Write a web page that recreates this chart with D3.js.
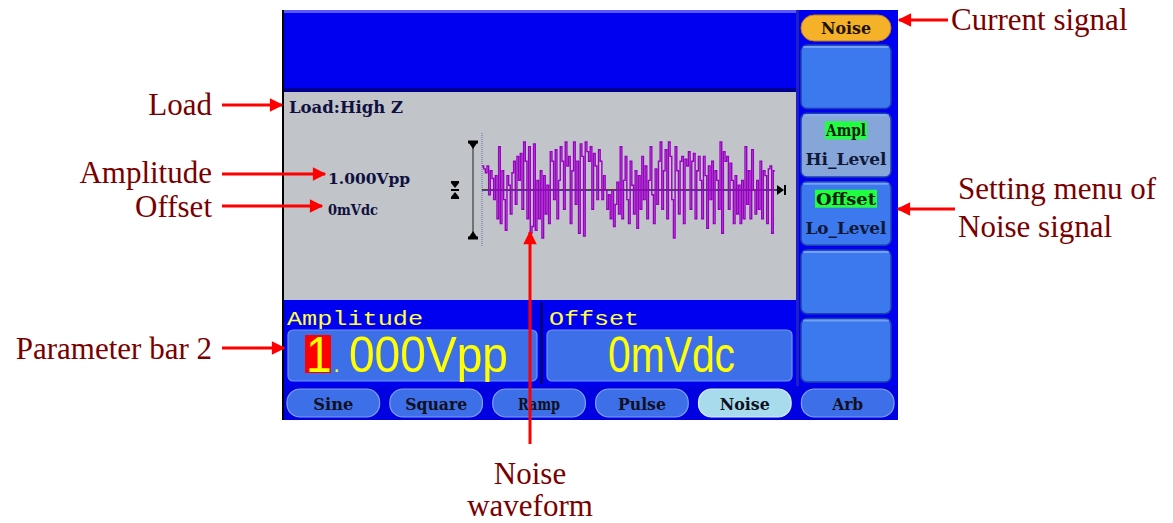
<!DOCTYPE html>
<html><head><meta charset="utf-8">
<script src="https://cdn.jsdelivr.net/npm/d3@7"></script>
<style>body{margin:0;background:#fff}svg{display:block}</style>
</head><body>
<svg id="c" width="1173" height="523"></svg>
<script>
// ---- data ----
const noiseValues = [
 0.25,0.22,0.18,0.25,-0.05,0.2,0.12,-0.1,0.15,-0.3,0.45,
 -0.35,0.2,-0.1,-0.42,0.15,0.05,-0.25,0.18,0.3,-0.15,0.35,0.1,
 0.38,-0.2,0.5,0.3,-0.3,0.45,-0.45,-0.38,0.48,-0.42,0.1,-0.3,
 0.2,-0.5,0.15,-0.25,0.05,-0.35,0.4,0.3,-0.1,0.42,-0.3,0.1,
 0.45,0.3,-0.2,0.5,0.25,0.35,-0.35,0.2,0.5,-0.15,0.3,-0.45,
 0.48,0.35,-0.48,0.5,0.4,0.3,0.45,-0.2,0.38,0.25,-0.1,0.42,
 0.3,-0.1,0.15,0.0,-0.2,-0.05,-0.3,0.0,-0.38,-0.15,0.08,-0.25,
 0.45,-0.3,0.1,0.35,-0.1,-0.35,0.3,0.05,-0.25,0.2,-0.4,0.15,
 -0.2,0.35,-0.1,0.25,-0.3,0.1,0.45,-0.05,-0.35,0.22,-0.15,0.3,
 0.5,-0.2,0.2,0.42,-0.3,0.5,0.35,-0.1,-0.5,0.45,0.2,-0.25,
 0.3,0.35,-0.35,0.32,0.25,0.4,-0.2,0.3,0.38,-0.3,0.2,0.35,
 0.1,-0.3,0.35,0.15,-0.4,0.25,-0.1,0.3,-0.35,0.2,0.1,-0.2,
 0.5,-0.45,0.4,0.3,0.35,-0.2,0.28,0.1,-0.35,0.15,-0.25,0.05,
 -0.35,0.1,-0.3,0.45,-0.15,0.2,-0.3,0.42,0.0,-0.25,0.1,-0.2,
 0.3,-0.3,0.2,0.15,-0.35,0.22,0.25,-0.45,0.2
];
const waveButtons = ["Sine","Square","Ramp","Pulse","Noise","Arb"];
const currentWave = "Noise";
const menuItems = [
 {top:"", bottom:"", style:"plain"},
 {top:"Ampl", bottom:"Hi_Level", style:"selected"},
 {top:"Offset", bottom:"Lo_Level", style:"plain"},
 {top:"", bottom:"", style:"plain"},
 {top:"", bottom:"", style:"plain"}
];
const params = [
 {label:"Amplitude", value:"1.000Vpp"},
 {label:"Offset", value:"0mVdc"}
];
const loadText = "Load:High Z";
const annotations = ["Load","Amplitude","Offset","Parameter bar 2","Current signal","Setting menu of","Noise signal","Noise","waveform"];

// ---- drawing ----
const svg = d3.select("#c");
const defs = svg.append("defs");
const mono = "'Liberation Mono', 'DejaVu Sans Mono', monospace";
const bserif = "'DejaVu Serif', serif";
const red = "#ff0000", dark = "#7a0000";

defs.append("marker").attr("id","ah").attr("viewBox","0 0 10 10").attr("refX",9).attr("refY",5)
 .attr("markerWidth",5).attr("markerHeight",4.5).attr("orient","auto-start-reverse").attr("markerUnits","strokeWidth")
 .append("path").attr("d","M0,0 L10,5 L0,10 Z").attr("fill",red);

const btext = (x,y,t,fs,len,anchor)=>svg.append("text").attr("x",x).attr("y",y).text(t)
  .attr("text-anchor",anchor||"start")
  .attr("font-family",bserif).attr("font-weight","bold").attr("font-size",fs)
  .attr("font-stretch","condensed")
  .attr("textLength",len).attr("lengthAdjust","spacingAndGlyphs");

// screen
svg.append("rect").attr("x",283).attr("y",10).attr("width",615).attr("height",410).attr("fill","#0000f0");
svg.append("rect").attr("x",283).attr("y",10).attr("width",513).attr("height",3).attr("fill","#5a5aff");
svg.append("line").attr("x1",283).attr("x2",283).attr("y1",10).attr("y2",420).attr("stroke","#000").attr("stroke-width",2);
svg.append("rect").attr("x",284).attr("y",88).attr("width",512).attr("height",4).attr("fill","#000090");
svg.append("rect").attr("x",284).attr("y",92).attr("width",512).attr("height",208).attr("fill","#c1c4c8");
svg.append("rect").attr("x",796).attr("y",10).attr("width",3).attr("height",380).attr("fill","#2020c0");

// gray area texts
btext(289,113,loadText,16,114).attr("fill","#101040");
btext(328,184,params[0].value,15,82).attr("fill","#101040");
btext(328,215,params[1].value,15,50).attr("fill","#101040");

// waveform scales
const x = d3.scaleLinear().domain([0, noiseValues.length]).range([482, 775]);
const y = d3.scaleLinear().domain([-0.5, 0.5]).range([238, 142]);
// dotted start line
svg.append("line").attr("x1",482).attr("x2",482).attr("y1",133).attr("y2",247)
 .attr("stroke","#6a6ab0").attr("stroke-width",1).attr("stroke-dasharray","1,1");
// amplitude marker
svg.append("line").attr("x1",473).attr("x2",473).attr("y1",y(0.5)).attr("y2",y(-0.5)).attr("stroke","#202020").attr("stroke-width",1);
[[y(0.5),1],[y(-0.5),-1]].forEach(([yy,d])=>{
  svg.append("rect").attr("x",468).attr("y",yy-1.5).attr("width",10).attr("height",3).attr("fill","#000");
  svg.append("path").attr("d",`M469,${yy+d*1} L477,${yy+d*1} L473,${yy+d*7} Z`).attr("fill","#000");
});
// offset marker (double arrows)
const oy = y(0);
svg.append("path").attr("d",`M451,${oy-7} L459,${oy-7} L455,${oy-2} Z M451,${oy+7} L459,${oy+7} L455,${oy+2} Z`).attr("fill","#000");
svg.append("rect").attr("x",451).attr("y",oy-9).attr("width",8).attr("height",2).attr("fill","#000");
svg.append("rect").attr("x",451).attr("y",oy+7).attr("width",8).attr("height",2).attr("fill","#000");
svg.append("rect").attr("x",451).attr("y",oy-1).attr("width",8).attr("height",2).attr("fill","#000");
// zero line
svg.append("line").attr("x1",482).attr("x2",780).attr("y1",oy-1.5).attr("y2",oy-1.5).attr("stroke","#d8d040").attr("stroke-width",1);
svg.append("line").attr("x1",482).attr("x2",780).attr("y1",oy).attr("y2",oy).attr("stroke","#1010a0").attr("stroke-width",1.3);
// waveform
const pts = noiseValues.map((v,i)=>[i,v]).concat([[noiseValues.length, noiseValues[noiseValues.length-1]]]);
const line = d3.line().x(d=>x(d[0])).y(d=>y(d[1])).curve(d3.curveStepAfter);
svg.append("path").datum(pts).attr("d",line).attr("fill","none").attr("stroke","#9a00c4").attr("stroke-width",1.4);
// end marker
svg.append("path").attr("d",`M777,${oy-5} L784,${oy} L777,${oy+5} Z`).attr("fill","#000");
svg.append("rect").attr("x",784).attr("y",oy-5).attr("width",2).attr("height",10).attr("fill","#000");

// parameter bar
svg.append("rect").attr("x",284).attr("y",300).attr("width",512).attr("height",86).attr("fill","#0000f0");
svg.append("rect").attr("x",540).attr("y",302).attr("width",3).attr("height",82).attr("fill","#000080");
const pb = [{x:288,w:249,lx:287,len:136},{x:547,w:245,lx:549,len:90}];
params.forEach((p,i)=>{
  const b = pb[i];
  svg.append("rect").attr("x",b.x).attr("y",330).attr("width",b.w).attr("height",51).attr("rx",5)
    .attr("fill","#3c6fe8").attr("stroke","#6e96f0").attr("stroke-width",1.2);
  svg.append("text").attr("x",b.lx).attr("y",325).text(p.label)
    .attr("font-family",mono).attr("font-size",21).attr("fill","#ffff40")
    .attr("textLength",b.len).attr("lengthAdjust","spacingAndGlyphs");
});
// amplitude value with cursor
svg.append("rect").attr("x",305).attr("y",335).attr("width",26).attr("height",38).attr("fill","#ff0000");
const big = "'Liberation Sans', Arial, sans-serif";
const av = svg.append("text").attr("x",306).attr("y",372).attr("font-family",big).attr("font-size",50).attr("fill","#ffff00")
  .attr("textLength",202).attr("lengthAdjust","spacingAndGlyphs");
av.append("tspan").text(params[0].value[0]);
av.append("tspan").attr("font-size",24).attr("dx",2).text(params[0].value[1]);
av.append("tspan").attr("dx",10).text(params[0].value.slice(2));
svg.append("text").attr("x",608).attr("y",372).text(params[1].value)
  .attr("font-family",big).attr("font-size",50).attr("fill","#ffff00")
  .attr("textLength",127).attr("lengthAdjust","spacingAndGlyphs");

// bottom buttons
const bx = d3.scaleBand().domain(waveButtons).range([287,894]).paddingInner(0.1).paddingOuter(0);
svg.append("rect").attr("x",284).attr("y",386).attr("width",614).attr("height",34).attr("fill","#0000e0");
const btnLen = {Sine:40,Square:62,Ramp:42,Pulse:48,Noise:50,Arb:31};
waveButtons.forEach(w=>{
  const sel = w===currentWave;
  svg.append("rect").attr("x",bx(w)).attr("y",389).attr("width",bx.bandwidth()).attr("height",28).attr("rx",13)
    .attr("fill",sel?"#a8dcec":"#3c6fe8").attr("stroke",sel?"#d8f0f8":"#7fa0f0").attr("stroke-width",1.2);
  btext(bx(w)+bx.bandwidth()/2,410,w,16,btnLen[w],"middle").attr("fill","#101020");
});

// right menu
svg.append("rect").attr("x",801).attr("y",15).attr("width",90).attr("height",26).attr("rx",13)
  .attr("fill","#f5b228").attr("stroke","#c08010").attr("stroke-width",1);
btext(846,34,currentWave,16,50,"middle").attr("fill","#201000");
const my = d3.scaleBand().domain(d3.range(menuItems.length)).range([45,382]).paddingInner(0.07).paddingOuter(0);
const menuLen = {Ampl:40,Offset:60,Hi_Level:81,Lo_Level:81};
menuItems.forEach((m,i)=>{
  const yy = my(i), h = my.bandwidth();
  svg.append("rect").attr("x",801).attr("y",yy).attr("width",90).attr("height",h).attr("rx",6)
    .attr("fill",m.style==="selected"?"#86a6da":"#3c78ee").attr("stroke","#1a40b0").attr("stroke-width",1.5);
  svg.append("rect").attr("x",803).attr("y",yy+1).attr("width",86).attr("height",2).attr("rx",1).attr("fill","#8fb0f8").attr("opacity",0.7);
  if(m.top){
    const L = menuLen[m.top];
    svg.append("rect").attr("x",846-L/2-1).attr("y",yy+8).attr("width",L+2).attr("height",18).attr("fill","#20ff40");
    btext(846,yy+23,m.top,16,L,"middle").attr("fill","#102010");
    btext(846,yy+52,m.bottom,16,menuLen[m.bottom],"middle").attr("fill","#101838");
  }
});

// annotations
const ann = (x,y,t,anchor)=>svg.append("text").attr("x",x).attr("y",y).text(t).attr("text-anchor",anchor||"start")
  .attr("font-family","'Liberation Serif','Times New Roman',serif").attr("font-size",31).attr("fill",dark);
const arrow = (x1,y1,x2,y2)=>svg.append("line").attr("x1",x1).attr("y1",y1).attr("x2",x2).attr("y2",y2)
  .attr("stroke",red).attr("stroke-width",3).attr("marker-end","url(#ah)");
ann(212,115,annotations[0],"end"); arrow(222,105,282,105);
ann(212,183,annotations[1],"end"); arrow(222,174,325,174);
ann(212,217,annotations[2],"end"); arrow(222,206,322,206);
ann(212,359,annotations[3],"end"); arrow(222,348,284,348);
ann(951,30,annotations[4]); arrow(948,20,899,20);
ann(958,199,annotations[5]); ann(958,237,annotations[6]); arrow(955,209,898,209);
ann(530,484,annotations[7],"middle"); ann(530,516,annotations[8],"middle");
arrow(530,444,530,232);
</script>
</body></html>
